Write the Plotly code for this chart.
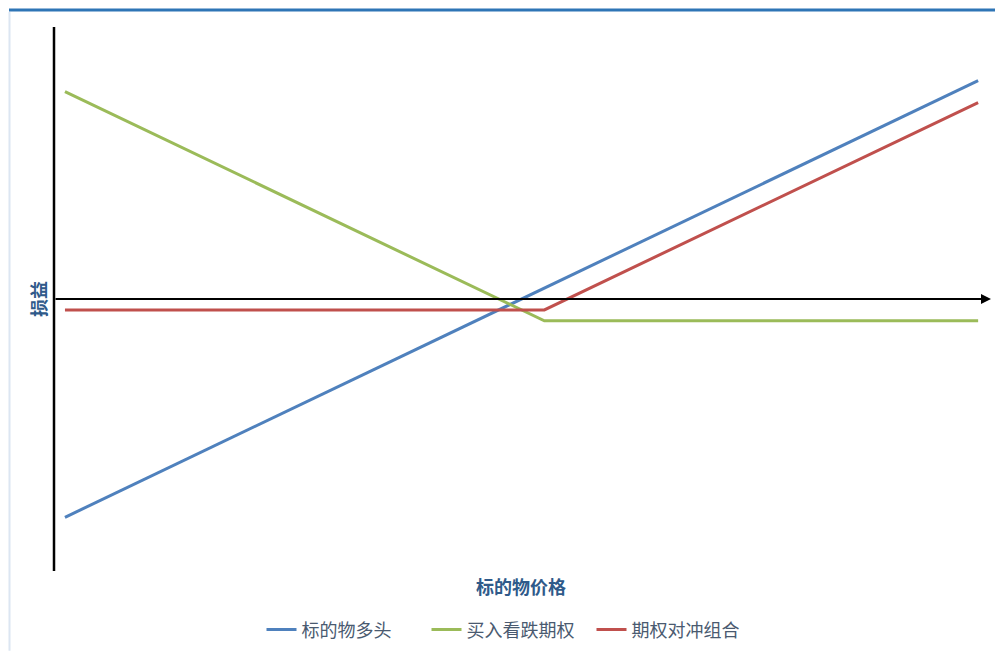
import plotly.graph_objects as go

# Payoff of a protective put: long underlying + long put
prices = [50, 102.5, 150]            # underlying price at expiry
long_pnl = [-50, 2.5, 50]            # 标的物多头
put_pnl = [47.5, -5, -5]             # 买入看跌期权
hedge_pnl = [-2.5, -2.5, 45]         # 期权对冲组合

series_names = ["标的物多头", "买入看跌期权", "期权对冲组合"]
series_colors = ["#4F81BD", "#9BBB59", "#C0504D"]
series_values = [long_pnl, put_pnl, hedge_pnl]

x_title = "标的物价格"
y_title = "损益"
fig_title = "图表：买入看跌期权对冲标的物下跌风险示意图"

FONT = "Noto Sans CJK SC"
W, H = 995, 653
L, R, T, B = 54, 5, 27, 80
PW, PH = W - L - R, H - T - B


def px(x):
    return (x - L) / PW


def py(y):
    return (H - B - y) / PH


fig = go.Figure()
for name, color, vals in zip(series_names, series_colors, series_values):
    fig.add_trace(go.Scatter(
        x=prices, y=vals, mode="lines", name=name,
        line=dict(color=color, width=3),
    ))

fig.update_xaxes(range=[48.8, 151.3], visible=False, showgrid=False, zeroline=False)
fig.update_yaxes(range=[-62.3, 62.3], visible=False, showgrid=False, zeroline=False)

shapes = [
    # vertical axis line
    dict(type="line", xref="paper", yref="paper", x0=0, x1=0, y0=0, y1=1,
         line=dict(color="black", width=2.5)),
    # header rule
    dict(type="line", xref="paper", yref="paper", x0=px(9), x1=px(995),
         y0=py(10), y1=py(10), line=dict(color="#2E75B6", width=3)),
    # left frame rule
    dict(type="line", xref="paper", yref="paper", x0=px(9.5), x1=px(9.5),
         y0=py(12), y1=py(653), line=dict(color="#DCE6F2", width=2)),
]

title_font = dict(family=FONT, size=18, color="#2F5A8A", weight="bold")

annotations = [
    # horizontal axis with arrow
    dict(x=px(991), y=0, xref="x domain", yref="y", ax=px(54), ay=0,
         axref="x domain", ayref="y", showarrow=True, arrowhead=2,
         arrowsize=1, arrowwidth=2, arrowcolor="black", text=""),
    dict(text=x_title, x=px(521), y=py(588), xref="paper", yref="paper",
         showarrow=False, font=title_font,
         xanchor="center", yanchor="middle"),
    dict(text=y_title, x=px(38), y=0.5, xref="paper", yref="paper",
         showarrow=False, textangle=-90, font=title_font,
         xanchor="center", yanchor="middle"),
    dict(text=fig_title, x=px(0), y=py(3), xref="paper", yref="paper",
         showarrow=False, font=dict(family=FONT, size=17, color="black"),
         xanchor="left", yanchor="bottom"),
]

fig.update_layout(
    width=W, height=H,
    margin=dict(l=L, r=R, t=T, b=B),
    paper_bgcolor="white", plot_bgcolor="white",
    shapes=shapes, annotations=annotations,
    showlegend=True,
    legend=dict(orientation="h", x=px(509), xanchor="center",
                y=py(632), yanchor="middle",
                font=dict(family=FONT, size=18, color="#4A5A70"),
                itemwidth=30, entrywidth=120, entrywidthmode="pixels",
                tracegroupgap=0),
    font=dict(family=FONT),
)

fig.write_html("out.html")
